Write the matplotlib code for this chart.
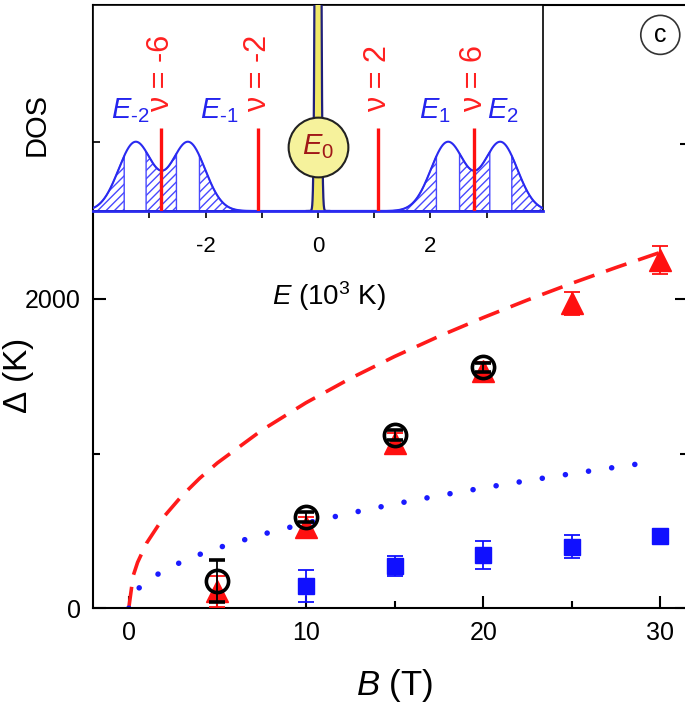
import numpy as np
import matplotlib
matplotlib.use("Agg")
import matplotlib.pyplot as plt

plt.rcParams['font.family'] = ['Liberation Sans', 'DejaVu Sans']
plt.rcParams['mathtext.fontset'] = 'custom'
plt.rcParams['mathtext.it'] = 'Liberation Sans:italic'
plt.rcParams['mathtext.rm'] = 'Liberation Sans'
plt.rcParams['hatch.linewidth'] = 1.0

# main panel data: gap vs field
B_tri = [5, 10, 15, 20, 25, 30]
D_tri = [110, 525, 1070, 1535, 1970, 2250]
err_tri = [100, 65, 60, 55, 75, 92]

B_circ = [5, 10, 15, 20]
D_circ = [175, 590, 1120, 1557]
err_circ = [135, 30, 30, 30]

B_sq = [10, 15, 20, 25, 30]
D_sq = [143, 271, 345, 398, 465]
err_sq = [103, 65, 88, 73, 25]

# theory curves
B_dash = [0, 0.25, 0.5, 1, 2, 3, 4, 5, 7.5, 10, 12.5, 15, 17.5, 20, 22.5, 25, 27.5, 30]
D_dash = [0, 210, 297, 420, 594, 727, 840, 939, 1150, 1328, 1485, 1627, 1757, 1878,
          1992, 2100, 2202, 2300]
B_dot = [0, 0.25, 0.5, 1, 2, 3, 4, 5, 7.5, 10, 12.5, 15, 17.5, 20, 22.5, 25, 27.5, 29]
D_dot = [0, 87, 123, 174, 246, 301, 348, 389, 477, 550, 615, 674, 728, 778, 825, 870,
         912, 937]

# inset: Landau level DOS sketch
level_E = [-3.25, -2.31, 2.31, 3.25]
level_names = [r'$E_{\text{-2}}$', r'$E_{\text{-1}}$', r'$E_1$', r'$E_2$']
level_label_x = [-3.68, -2.10, 1.80, 3.01]
level_width = 0.3
hatch_ranges = [(-4.0, -3.45), (-3.06, -2.52), (-2.11, -1.3),
                (1.3, 2.11), (2.52, 3.06), (3.45, 4.0)]
nu_E = [-2.79, -1.07, 1.07, 2.77]
nu_labels = ['ν = -6', 'ν = -2', 'ν = 2', 'ν = 6']
E0_height = 30
E0_width = 0.03

fig = plt.figure(figsize=(6.85, 7.11), dpi=100)
W, H = 685., 711.

ax = fig.add_axes([93.3 / W, (H - 608.3) / H, (687 - 93.3) / W, (608.3 - 4.7) / H])
ax.set_xlim(-2, 31.5)
ax.set_ylim(0, 3900)

ax.plot(B_dash, D_dash, color='#ff1a1a', lw=2.6, dashes=(6, 3.4), zorder=2)
ax.plot(B_dot, D_dot, color='#1a1aff', lw=4.0, dashes=(0.01, 4.2),
        dash_capstyle='round', zorder=2)

ax.errorbar(B_tri, D_tri, yerr=err_tri, fmt='^', color='#ff1010', ms=16,
            elinewidth=1.3, capsize=6, capthick=1.3, zorder=3)
ax.errorbar(B_circ, D_circ, yerr=err_circ, fmt='o', color='black', mfc='none',
            mec='black', mew=2.6, ms=16, elinewidth=1.3, capsize=6, capthick=1.3,
            zorder=4)
ax.errorbar(B_sq, D_sq, yerr=err_sq, fmt='s', color='#1010ff', ms=11,
            elinewidth=1.3, capsize=6, capthick=1.3, zorder=3)

ax.set_xticks([0, 10, 20, 30])
ax.set_xticks([5, 15, 25], minor=True)
ax.set_yticks([0, 2000])
ax.set_yticks([1000, 3000], minor=True)
ax.tick_params(which='both', direction='in', width=1.5, right=True, top=False,
               labelsize=18, pad=9)
ax.tick_params(which='major', length=9)
ax.tick_params(which='minor', length=5)
for s in ax.spines.values():
    s.set_linewidth(1.5)

ax.set_xlabel(r'$B$ (T)', fontsize=25)
ax.xaxis.set_label_coords(0.508, -0.098)
ax.set_ylabel(r'$\Delta$ (K)', fontsize=24)
ax.yaxis.set_label_coords(-0.096, 0.385)

ax.text(0.955, 0.95, 'c', transform=ax.transAxes, ha='center', va='center',
        fontsize=18, bbox=dict(boxstyle='circle,pad=0.3', fc='white',
                               ec='#333333', lw=1.2))

# inset
axi = fig.add_axes([93.3 / W, (H - 211) / H, (542.7 - 93.3) / W, (211 - 4.7) / H])
axi.set_facecolor('white')
axi.set_xlim(-4, 4)
axi.set_ylim(0, 3)

E = np.linspace(-4, 4, 4001)
dos = np.zeros_like(E)
for e in level_E:
    dos += np.exp(-(E - e) ** 2 / (2 * level_width ** 2))
for lo, hi in hatch_ranges:
    m = (E >= lo) & (E <= hi)
    axi.fill_between(E[m], 0, dos[m], facecolor='none', edgecolor='#4848ff',
                     hatch='////', lw=1.0, zorder=2)
axi.plot(E, dos, color='#2a2af0', lw=1.5, zorder=3)

E0 = np.linspace(-0.2, 0.2, 801)
dos0 = E0_height * np.exp(-E0 ** 2 / (2 * E0_width ** 2))
axi.fill_between(E0, 0, dos0, color='#f0e868', lw=0, zorder=3)
axi.plot(E0, dos0, color='#20207a', lw=1.6, zorder=4)
axi.plot([-4, 4], [0, 0], color='#2a2af0', lw=2.0, zorder=4, clip_on=False)

axi.vlines(nu_E, 0, 1.21, color='#ff1010', lw=2.4, zorder=5)
for x, t in zip(nu_E, nu_labels):
    axi.text(x, 1.44, t, rotation=90, ha='center', va='bottom', color='#ff2020',
             fontsize=22)
for x, t in zip(level_label_x, level_names):
    axi.text(x, 1.354, t, ha='left', va='baseline', color='#2424ee', fontsize=21)

axi.plot(0, 0.93, 'o', ms=43, mfc='#f6f29c', mec='#222222', mew=1.5, zorder=6)
axi.text(0, 0.93, r'$E_0$', ha='center', va='center', color='#a01818',
         fontsize=21, zorder=7)

axi.set_xticks([-3, -2, -1, 0, 1, 2, 3])
axi.set_xticklabels(['', '-2', '', '0', '', '2', ''])
axi.set_yticks([1])
axi.set_yticklabels([])
axi.tick_params(axis='x', direction='out', length=5, width=1.2, labelsize=16, pad=13)
axi.tick_params(axis='y', direction='in', length=5, width=1.2)
for s in axi.spines.values():
    s.set_linewidth(1.2)
axi.set_xlabel(r'$E$ (10$^3$ K)', fontsize=20)
axi.xaxis.set_label_coords(0.525, -0.33)
axi.set_ylabel('DOS', fontsize=21)
axi.yaxis.set_label_coords(-0.096, 0.417)

fig.savefig('out.png', dpi=100)
